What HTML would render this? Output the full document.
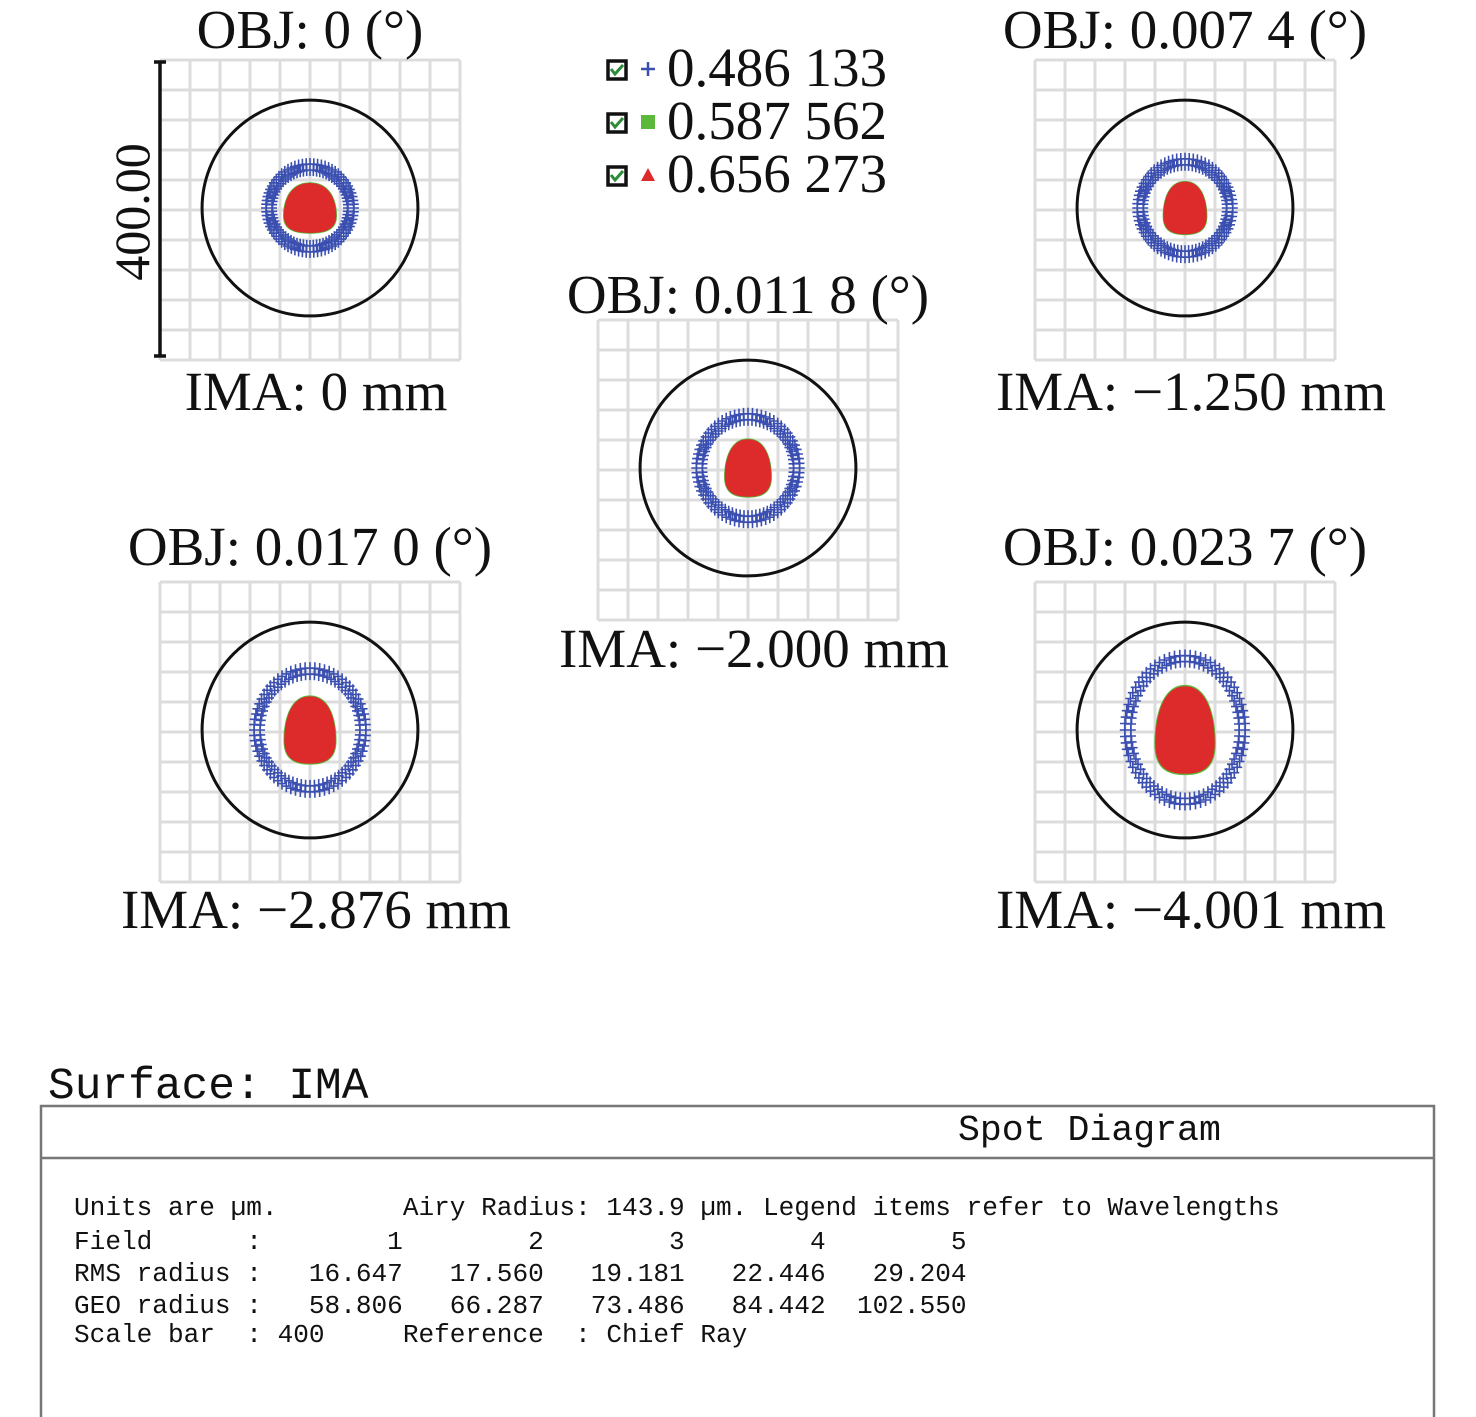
<!DOCTYPE html>
<html><head><meta charset="utf-8">
<style>
html,body{margin:0;padding:0;background:#fff;width:1476px;height:1417px;overflow:hidden}
svg{position:absolute;left:0;top:0}
.t{font-family:"Liberation Serif",serif;fill:#111}
.m{font-family:"Liberation Mono",monospace;fill:#111;white-space:pre}
</style></head>
<body>
<svg id="chart" width="1476" height="1417" viewBox="0 0 1476 1417" xmlns="http://www.w3.org/2000/svg"></svg>
<script>
// ---- data ----
const fields = [1, 2, 3, 4, 5];
const objLabels = ["OBJ: 0 (°)", "OBJ: 0.007 4 (°)", "OBJ: 0.011 8 (°)", "OBJ: 0.017 0 (°)", "OBJ: 0.023 7 (°)"];
const imaLabels = ["IMA: 0 mm", "IMA: \u22121.250 mm", "IMA: \u22122.000 mm", "IMA: \u22122.876 mm", "IMA: \u22124.001 mm"];
const rmsRadius = [16.647, 17.560, 19.181, 22.446, 29.204];
const geoRadius = [58.806, 66.287, 73.486, 84.442, 102.550];
const airyRadius = 143.9;
const scaleBar = 400;
const wavelengths = ["0.486 133", "0.587 562", "0.656 273"];

const NS = "http://www.w3.org/2000/svg";
const svg = document.getElementById('chart');
function el(tag, attrs, parent) {
  const e = document.createElementNS(NS, tag);
  for (const k in attrs) e.setAttribute(k, attrs[k]);
  (parent || svg).appendChild(e);
  return e;
}
const panelPos = [[160,60],[1035,60],[598,320],[160,582],[1035,582]];
const titleY = [[48,410],[48,410],[313,667],[565,928],[565,928]];
const squash = [1, 0.97, 0.95, 0.9, 0.8];
const px = 300 / scaleBar;

fields.forEach((f, i) => {
  const [gx, gy] = panelPos[i];
  const g = el('g', {});
  
  
  for (let k = 0; k <= 10; k++) {
    const l1 = el('line', {x1: gx + k*30, y1: gy, x2: gx + k*30, y2: gy + 300, stroke: '#dcdcdc', 'stroke-width': 3}, g);
    
    
    const l2 = el('line', {x1: gx, y1: gy + k*30, x2: gx + 300, y2: gy + k*30, stroke: '#dcdcdc', 'stroke-width': 3}, g);
    
    
  }
  const cx = gx + 150, cy = gy + 148;
  const ac = el('circle', {cx, cy, r: airyRadius * px, fill: 'none', stroke: '#111', 'stroke-width': 3}, g);
  
  
  const ry = geoRadius[i] * px * 0.93;
  const rx = ry * squash[i];
  let d = '';
  for (let a = 0; a < 360; a += 5) {
    const rad = a * Math.PI / 180;
    for (const off of [-3, 3]) {
      const x = cx + (rx + off) * Math.cos(rad), y = cy + (ry + off) * Math.sin(rad);
      d += `M${(x-5).toFixed(1)} ${y.toFixed(1)}h10M${x.toFixed(1)} ${(y-6).toFixed(1)}v12`;
    }
  }
  const ring = el('path', {d, stroke: '#3a4fb0', 'stroke-width': 1.6, fill: 'none'}, g);
  
  
  const bry = rmsRadius[i] * px * 2.0;
  const brx = bry * (i === 0 ? 1.05 : squash[i] * 0.85);
  function blob(sc) {
    const h = bry * sc, w = brx * sc;
    return `M${cx} ${cy - h} C${cx + w*0.75} ${cy - h} ${cx + w} ${cy - h*0.3} ${cx + w} ${cy + h*0.3}` +
      ` C${cx + w} ${cy + h*0.85} ${cx + w*0.6} ${cy + h} ${cx} ${cy + h}` +
      ` C${cx - w*0.6} ${cy + h} ${cx - w} ${cy + h*0.85} ${cx - w} ${cy + h*0.3}` +
      ` C${cx - w} ${cy - h*0.3} ${cx - w*0.75} ${cy - h} ${cx} ${cy - h}Z`;
  }
  const gb = el('path', {d: blob(1.03), fill: '#5cb83a'}, g);
  
  
  const rb = el('path', {d: blob(1.0), fill: '#dd2a2a'}, g);
  
  
  const t1 = el('text', {x: cx, y: titleY[i][0], 'text-anchor': 'middle', 'font-size': 55, class: 't'}, g);
  t1.textContent = objLabels[i];
  
  
  const t2 = el('text', {x: cx + 6, y: titleY[i][1], 'text-anchor': 'middle', 'font-size': 55, class: 't'}, g);
  t2.textContent = imaLabels[i];
  
  
});

const sb = el('path', {d: 'M160 62V356M154 62H166M154 356H166', stroke: '#111', 'stroke-width': 3.5, fill: 'none'});


const sbt = el('text', {x: 0, y: 0, 'text-anchor': 'middle', 'font-size': 50, class: 't', transform: 'translate(149 212) rotate(-90)'});
sbt.textContent = scaleBar.toFixed(2);



const legColors = ['#3a4fb0', '#5cb83a', '#dd2a2a'];
wavelengths.forEach((w, i) => {
  const y = 69 + i * 53;
  const g = el('g', {});
  
  
  el('rect', {x: 608, y: y - 8, width: 18, height: 18, fill: '#fff', stroke: '#111', 'stroke-width': 3.5}, g);
  el('path', {d: `M611 ${y} l4 5 l8 -9`, stroke: '#2e8b3a', 'stroke-width': 3, fill: 'none'}, g);
  if (i === 0) el('path', {d: `M641 ${y}h14M648 ${y-7}v14`, stroke: legColors[0], 'stroke-width': 2.5}, g);
  if (i === 1) el('rect', {x: 641, y: y - 7, width: 14, height: 14, fill: legColors[1]}, g);
  if (i === 2) el('path', {d: `M641 ${y+6} L648 ${y-7} L655 ${y+6}Z`, fill: legColors[2]}, g);
  const t = el('text', {x: 667, y: y + 17, 'font-size': 55, class: 't'}, g);
  t.textContent = w;
});

const st = el('text', {x: 48, y: 1098, 'font-size': 44.5, class: 'm'});
st.textContent = 'Surface: IMA';


const box = el('rect', {x: 41, y: 1106, width: 1393, height: 320, fill: 'none', stroke: '#777', 'stroke-width': 2.5});


const hl = el('line', {x1: 41, y1: 1158, x2: 1434, y2: 1158, stroke: '#777', 'stroke-width': 2.5});


const sd = el('text', {x: 958, y: 1140, 'font-size': 36.5, class: 'm'});
sd.textContent = 'Spot Diagram';



function pad(s, n) { s = String(s); while (s.length < n) s = ' ' + s; return s; }
const lines = [
  'Units are \u00b5m.        Airy Radius: ' + airyRadius.toFixed(1) + ' \u00b5m. Legend items refer to Wavelengths',
  'Field      : ' + fields.map(v => pad(v, 8)).join(' '),
  'RMS radius : ' + rmsRadius.map(v => pad(v.toFixed(3), 8)).join(' '),
  'GEO radius : ' + geoRadius.map(v => pad(v.toFixed(3), 8)).join(' '),
  'Scale bar  : ' + scaleBar + '     Reference  : Chief Ray'
];
const lineY = [1215, 1249, 1281, 1313, 1342];
lines.forEach((s, i) => {
  const t = el('text', {x: 74, y: lineY[i], 'font-size': 26.1, class: 'm', 'xml:space': 'preserve'});
  t.textContent = s;
  
  
});
</script>
</body></html>
